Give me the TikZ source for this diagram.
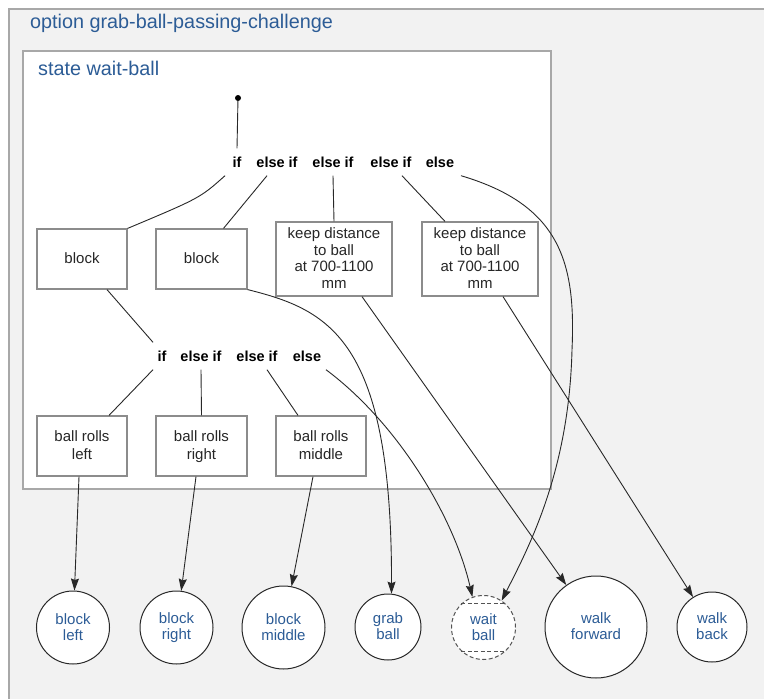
\documentclass[tikz,border=0pt]{standalone}
\usepackage{fontspec}
\setmainfont{Liberation Sans}
\usetikzlibrary{arrows.meta}
\definecolor{ttl}{RGB}{44,92,150}
\definecolor{bgc}{RGB}{242,242,242}
\definecolor{frm}{RGB}{168,168,168}
\definecolor{boxb}{RGB}{140,140,140}
\definecolor{ln}{RGB}{40,40,40}
\newcommand{\lnst}{\rule[-2.5pt]{0pt}{14pt}}
\begin{document}
\begin{tikzpicture}[x=1pt,y=-1pt,
  stbox/.style={draw=boxb, line width=1.2pt, fill=white, align=center, inner sep=0pt,
    font=\fontsize{15}{16.5}\selectfont, text=black!85},
  cond/.style={font=\bfseries\fontsize{14.5}{17}\selectfont, inner sep=0pt, minimum height=27pt, minimum width=20pt},
  opt/.style={circle, draw=ln, line width=1pt, fill=white, align=center, inner sep=0pt,
    font=\fontsize{15}{16}\selectfont, text=ttl},
  conn/.style={draw=ln, line width=0.9pt},
  arr/.style={conn, -{Stealth[length=12pt,width=8pt,inset=1.5pt]}},
  ttlf/.style={font=\fontsize{19.8}{22}\selectfont, text=ttl, inner sep=0pt, anchor=base west},
]
\useasboundingbox (0,0) rectangle (764,699);
\clip (0,0) rectangle (764,699);
\fill[white] (0,0) rectangle (764,699);
% outer option frame
\fill[bgc] (9,9) rectangle (780,720);
\draw[frm, line width=1.6pt] (9,720) -- (9,9) -- (780,9);
\node[ttlf] (optitle) at (30,28) {option grab-ball-passing-challenge};
% state box
\draw[frm, line width=1.5pt, fill=white] (23,51) rectangle (551,489);
\node[ttlf] (sttitle) at (38,75) {state wait-ball};

% start
\node[circle, fill=black, inner sep=0pt, minimum size=6pt] (start) at (238,98) {};

% first decision row
\node[cond] (if1) at (237,162) {if};
\node[cond] (elif1) at (277,162) {else if};
\node[cond] (elif2) at (333,162) {else if};
\node[cond] (elif3) at (391,162) {else if};
\node[cond] (else1) at (440,162) {else};

% boxes row 1
\node[stbox, minimum width=90pt, minimum height=60pt] (blockA) at (82,259) {block\lnst};
\node[stbox, minimum width=91pt, minimum height=60pt] (blockB) at (201.5,259) {block\lnst};
\node[stbox, minimum width=116pt, minimum height=74pt] (kd1) at (334,259) {keep distance\lnst\\to ball\lnst\\at 700-1100\lnst\\mm\lnst};
\node[stbox, minimum width=116pt, minimum height=74pt] (kd2) at (480,259) {keep distance\lnst\\to ball\lnst\\at 700-1100\lnst\\mm\lnst};

% second decision row
\node[cond] (if2) at (162,356) {if};
\node[cond] (elif2b) at (201,356) {else if};
\node[cond] (elif3b) at (257,356) {else if};
\node[cond] (else2) at (307,356) {else};

% boxes row 2
\node[stbox, font=\fontsize{15}{18}\selectfont, minimum width=90pt, minimum height=60pt] (brl) at (82,446) {ball rolls\lnst\\left\lnst};
\node[stbox, font=\fontsize{15}{18}\selectfont, minimum width=91pt, minimum height=60pt] (brr) at (201.5,446) {ball rolls\lnst\\right\lnst};
\node[stbox, font=\fontsize{15}{18}\selectfont, minimum width=90pt, minimum height=60pt] (brm) at (321,446) {ball rolls\lnst\\middle\lnst};

% option circles
\node[opt, minimum size=73pt] (cBL) at (73,627.5) {block\lnst\\left\lnst};
\node[opt, minimum size=73pt] (cBR) at (176.5,627.5) {block\lnst\\right\lnst};
\node[opt, minimum size=83pt] (cBM) at (283.5,627.5) {block\lnst\\middle\lnst};
\node[opt, minimum size=66pt] (cGB) at (388,627) {grab\lnst\\ball\lnst};
\node[opt, minimum size=64pt, draw=ln!80, dash pattern=on 4pt off 2.5pt] (cWB) at (483.5,627.5) {wait\lnst\\ball\lnst};
\node[opt, minimum size=102pt] (cWF) at (596,627) {walk\lnst\\forward\lnst};
\node[opt, minimum size=70pt] (cWK) at (712,627) {walk\lnst\\back\lnst};
\draw[ln!80, line width=1pt, dash pattern=on 4pt off 2.5pt] (cWB.133) -- (cWB.47);
\draw[ln!80, line width=1pt, dash pattern=on 4pt off 2.5pt] (cWB.-133) -- (cWB.-47);

% connectors
\draw[conn] (start) -- (if1.north);
\draw[conn] ([xshift=-12pt]if1.south) .. controls (200,198) .. (blockA.north east);
\draw[conn] ([xshift=-10pt]elif1.south) -- ([xshift=22pt]blockB.north);
\draw[conn] (elif2.south) -- (kd1.north);
\draw[conn] ([xshift=11pt]elif3.south) -- ([xshift=-35pt]kd2.north);
\draw[arr] ([xshift=21pt]else1.south) .. controls (560,205) and (576,262) .. (572,350)
   .. controls (569,470) and (530,545) .. (cWB.56);

\draw[conn] ([xshift=25pt]blockA.south) -- ([xshift=-9pt]if2.north);
\draw[conn] ([xshift=-9pt]if2.south) -- ([xshift=27pt]brl.north);
\draw[conn] (elif2b.south) -- (brr.north);
\draw[conn] ([xshift=10pt]elif3b.south) -- ([xshift=-23pt]brm.north);
\draw[arr] ([xshift=19pt]else2.south) .. controls (400,425) and (455,520) .. (cWB.110);

\draw[arr] (blockB.south east) .. controls (330,310) and (392,340) .. (cGB.84);
\draw[arr] ([xshift=28pt]kd1.south) -- (cWF);
\draw[arr] ([xshift=23pt]kd2.south) -- (cWK);

\draw[arr] ([xshift=-3pt]brl.south) -- (cBL);
\draw[arr] ([xshift=-5.5pt]brr.south) -- (cBR);
\draw[arr] ([xshift=-8pt]brm.south) -- (cBM);
\end{tikzpicture}
\end{document}
